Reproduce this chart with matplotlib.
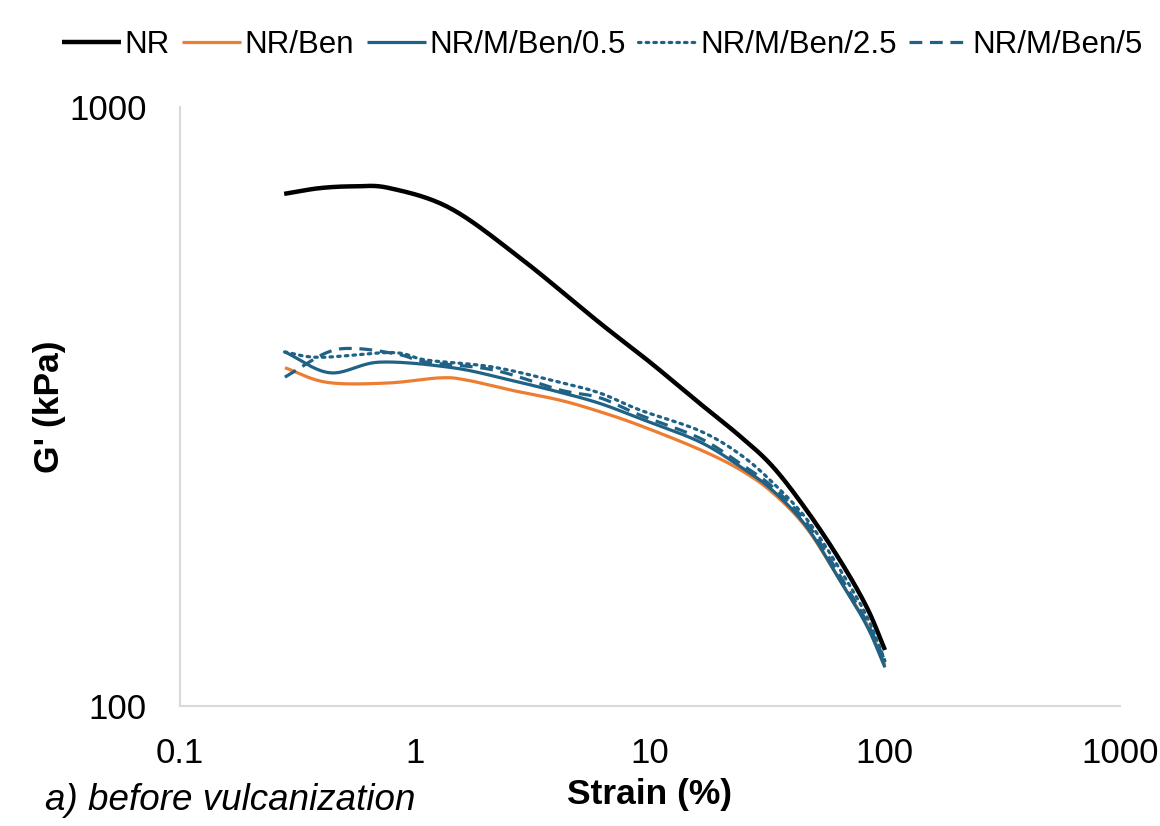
import numpy as np
import matplotlib
matplotlib.use('Agg')
import matplotlib.pyplot as plt

plt.rcParams['font.family'] = ['Liberation Sans', 'DejaVu Sans']

# strain (%) and G' (kPa)
nr_x = [0.278, 0.394, 0.555, 0.781, 1.41, 2.80, 6.12, 10.0, 16.3, 24.2, 33.3, 46.5, 64.4, 83.8, 100]
nr_y = [716, 732, 737, 732, 678, 560, 436, 375, 320, 282, 251, 212, 175, 146, 124]

ben_x = [0.280, 0.422, 0.760, 1.28, 1.66, 2.54, 4.14, 6.12, 9.06, 16.3, 24.2, 33.3, 46.5, 64.4, 83.8, 100]
ben_y = [367, 347, 346, 353, 350, 337, 324, 310, 294, 268, 248, 227, 198, 162, 137, 117]

m05_x = [0.280, 0.435, 0.709, 1.45, 2.54, 4.14, 6.12, 9.06, 16.3, 24.2, 33.3, 46.5, 64.4, 83.8, 100]
m05_y = [390, 360, 375, 367, 350, 334, 320, 302, 276, 251, 229, 199, 162, 136, 116]

m25_x = [0.279, 0.394, 0.804, 1.12, 2.15, 4.14, 6.12, 9.06, 16.3, 24.2, 33.3, 46.5, 64.4, 83.8, 100]
m25_y = [390, 382, 389, 378, 368, 347, 333, 312, 288, 263, 236, 205, 169, 141, 119]

m5_x = [0.280, 0.422, 0.566, 0.86, 1.12, 2.15, 4.14, 6.12, 9.06, 16.3, 24.2, 33.3, 46.5, 64.4, 83.8, 100]
m5_y = [354, 389, 395, 386, 375, 364, 337, 327, 306, 280, 254, 232, 202, 165, 138, 119]

labels = ['NR', 'NR/Ben', 'NR/M/Ben/0.5', 'NR/M/Ben/2.5', 'NR/M/Ben/5']

BLUE = '#1f6286'
ORANGE = '#ed7d31'


def smooth(x, y, n=20):
    """Catmull-Rom curve through the points in log-log space (like Excel's smoothed line)."""
    lx, ly = np.log10(x), np.log10(y)
    p = np.column_stack([lx, ly])
    p = np.vstack([p[0] - (p[1] - p[0]), p, p[-1] + (p[-1] - p[-2])])
    out = []
    t = np.linspace(0, 1, n, endpoint=False)[:, None]
    for i in range(1, len(p) - 2):
        p0, p1, p2, p3 = p[i - 1], p[i], p[i + 1], p[i + 2]
        seg = 0.5 * ((2 * p1) + (-p0 + p2) * t + (2 * p0 - 5 * p1 + 4 * p2 - p3) * t ** 2
                     + (-p0 + 3 * p1 - 3 * p2 + p3) * t ** 3)
        out.append(seg)
    out.append(p[-2][None, :])
    out = np.vstack(out)
    return 10 ** out[:, 0], 10 ** out[:, 1]


fig = plt.figure(figsize=(11.6, 8.26), dpi=100)
ax = fig.add_axes([0.155, 0.1453, 0.8105, 0.7252])

series = [
    (nr_x, nr_y, dict(color='black', lw=3.2, ls='-')),
    (ben_x, ben_y, dict(color=ORANGE, lw=2.3, ls='-')),
    (m05_x, m05_y, dict(color=BLUE, lw=2.3, ls='-')),
    (m25_x, m25_y, dict(color=BLUE, lw=2.3, ls=(0, (0.8, 1.6)), dash_capstyle='round')),
    (m5_x, m5_y, dict(color=BLUE, lw=2.3, ls=(0, (4, 2.4)))),
]
for (x, y, st), lab in zip(series, labels):
    sx, sy = smooth(x, y)
    ax.plot(sx, sy, label=lab, solid_capstyle='butt', **st)

ax.set_xscale('log')
ax.set_yscale('log')
ax.set_xlim(0.1, 1000)
ax.set_ylim(100, 1000)
ax.set_xticks([0.1, 1, 10, 100, 1000])
ax.set_xticklabels(['0.1', '1', '10', '100', '1000'])
ax.set_yticks([100, 1000])
ax.set_yticklabels(['100', '1000'])
ax.minorticks_off()
ax.tick_params(length=0, labelsize=25, colors='black')
ax.tick_params(axis='x', pad=22)
ax.tick_params(axis='y', pad=24)

for s in ['top', 'right']:
    ax.spines[s].set_visible(False)
for s in ['left', 'bottom']:
    ax.spines[s].set_color('#d9d9d9')
    ax.spines[s].set_linewidth(1.5)

ax.set_xlabel('Strain (%)', fontsize=25.5, fontweight='bold', labelpad=6)
ax.set_ylabel("G' (kPa)", fontsize=25.5, fontweight='bold', labelpad=2)

fig.text(45 / 1160, 1 - 800 / 826, 'a) before vulcanization', fontsize=26.5,
         style='italic', ha='left', va='center')

fig.legend(loc='center', bbox_to_anchor=(0.519, 1 - 45 / 826), ncol=5, frameon=False,
           fontsize=22.5, handlelength=1.9, handletextpad=0.1, columnspacing=0.4)

fig.savefig('out.png', dpi=100)
